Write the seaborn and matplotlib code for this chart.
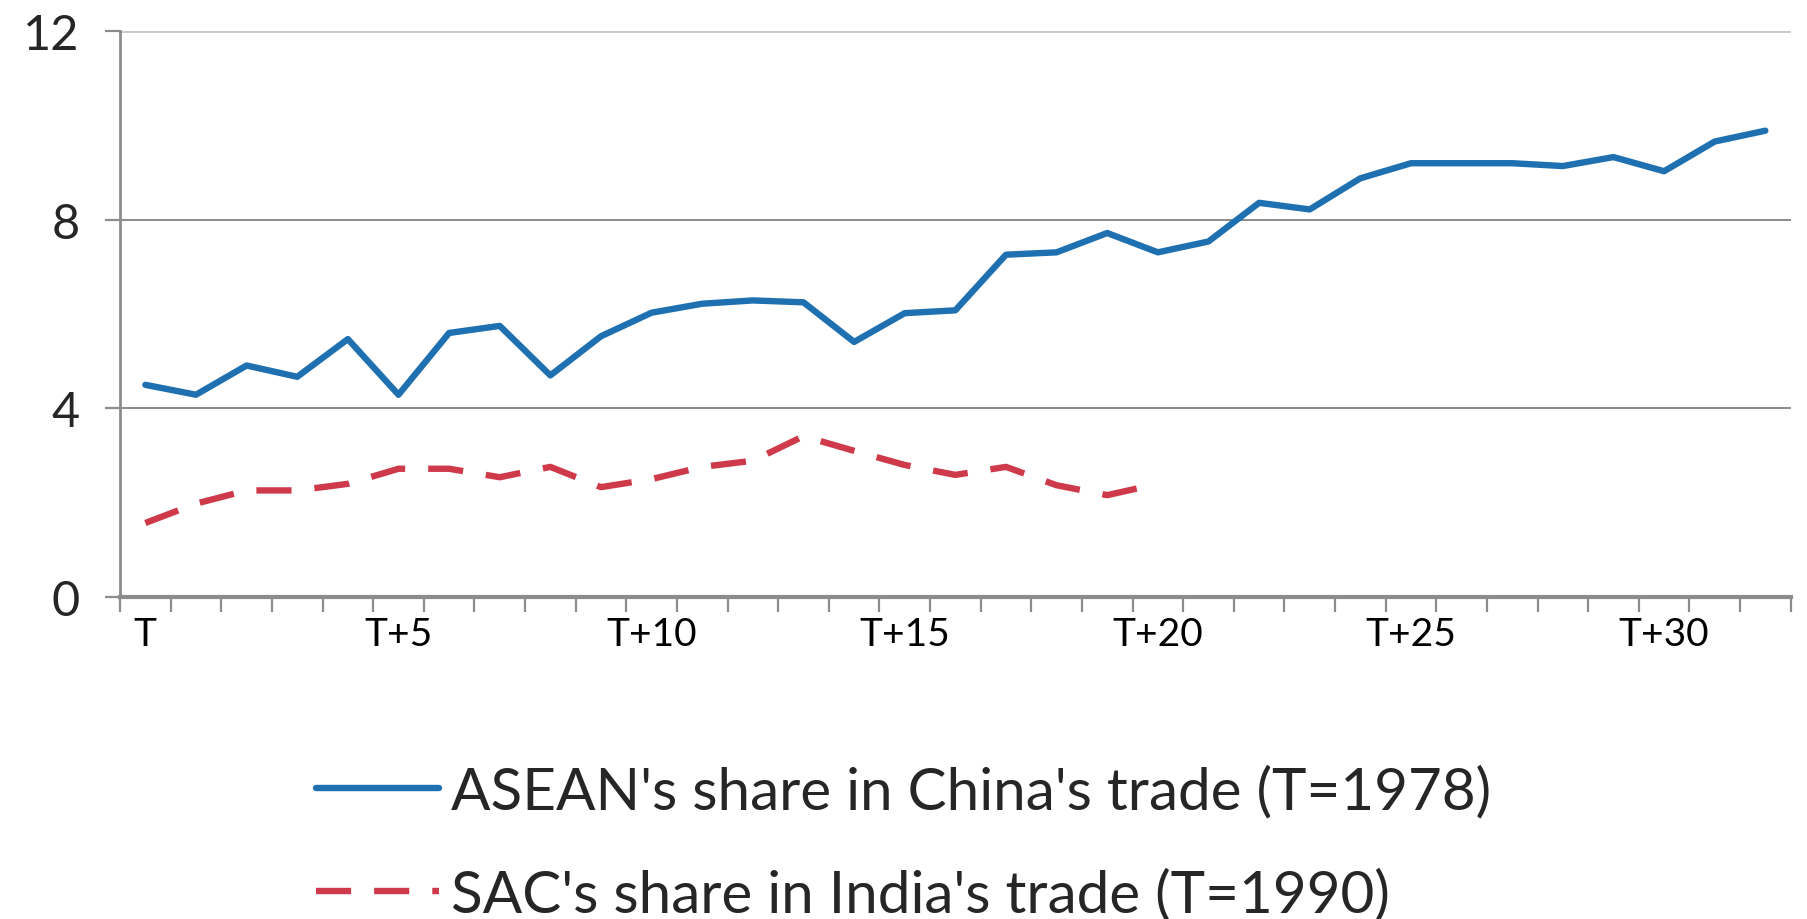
#!/usr/bin/env python3

import matplotlib.pyplot as plt
import seaborn as sns
import pandas as pd
import numpy as np

# ===================== DATOS =====================

periods = [f"T+{i}" if i else "T" for i in range(33)]
tick_labels = ["T", "T+5", "T+10", "T+15", "T+20", "T+25", "T+30"]

asean_china = [
    4.50, 4.29, 4.91, 4.67, 5.47, 4.29, 5.60, 5.75, 4.70, 5.53,
    6.03, 6.22, 6.29, 6.25, 5.41, 6.02, 6.08, 7.26, 7.31, 7.72,
    7.31, 7.54, 8.36, 8.22, 8.88, 9.20, 9.20, 9.20, 9.14, 9.33,
    9.03, 9.66, 9.89,
]
sac_india = [
    1.57, 1.98, 2.26, 2.26, 2.40, 2.72, 2.72, 2.54, 2.76, 2.33,
    2.50, 2.76, 2.89, 3.41, 3.10, 2.80, 2.59, 2.76, 2.37, 2.16,
    2.40,
]

label_asean = "ASEAN's share in China's trade (T=1978)"
label_sac = "SAC's share in India's trade (T=1990)"

# ===================== GRAFICADO =====================

def main() -> None:
    sns.set_theme(style="white")
    plt.rcParams["font.family"] = ["Lato", "DejaVu Sans"]

    df_asean = pd.DataFrame({"x": np.arange(len(asean_china)), "y": asean_china})
    df_sac = pd.DataFrame({"x": np.arange(len(sac_india)), "y": sac_india})

    fig = plt.figure(figsize=(18.08, 9.2), dpi=100)
    ax = fig.add_axes([0.0664, 0.35, 0.924, 0.615])

    sns.lineplot(data=df_asean, x="x", y="y", ax=ax, color="#1f70b0",
                 linewidth=4.6, label=label_asean)
    sns.lineplot(data=df_sac, x="x", y="y", ax=ax, color="#cf3a4a",
                 linewidth=4.6, label=label_sac, dashes=False)
    ax.lines[1].set_dashes((5.5, 3.6))

    n = len(periods)
    ax.set_xlim(-0.5, n - 0.5)
    ax.set_ylim(0, 12)
    ax.set_yticks([0, 4, 8, 12])
    ax.set_xticks([periods.index(t) for t in tick_labels])
    ax.set_xticklabels(tick_labels)
    ax.set_xticks(np.arange(-0.5, n, 1.0), minor=True)

    ax.tick_params(axis="x", which="major", length=0, pad=14,
                   labelsize=28, colors="black")
    ax.tick_params(axis="x", which="minor", direction="out", length=11,
                   width=1.6, color="#8c8c8c", bottom=True)
    ax.tick_params(axis="y", direction="out", length=11, width=1.6,
                   color="#8c8c8c", labelsize=35, pad=18, left=True)

    for yv in [4, 8]:
        ax.axhline(yv, color="#8a8a8a", linewidth=1.4, zorder=0)
    ax.axhline(12, color="#c8c8c8", linewidth=2, zorder=0)

    ax.set_xlabel("")
    ax.set_ylabel("")
    sns.despine(ax=ax, top=True, right=True)
    ax.spines["left"].set_color("#8c8c8c")
    ax.spines["left"].set_linewidth(2)
    ax.spines["bottom"].set_color("#8c8c8c")
    ax.spines["bottom"].set_linewidth(3)

    handles, labels = ax.get_legend_handles_labels()
    ax.get_legend().remove()
    fig.legend(handles, labels, loc="upper left",
               bbox_to_anchor=(0.146, 0.225), frameon=False,
               fontsize=42, handlelength=2.1, handletextpad=0.2,
               labelspacing=0.85)

    plt.savefig("out.png", dpi=100)
    plt.close("all")


if __name__ == "__main__":
    main()
